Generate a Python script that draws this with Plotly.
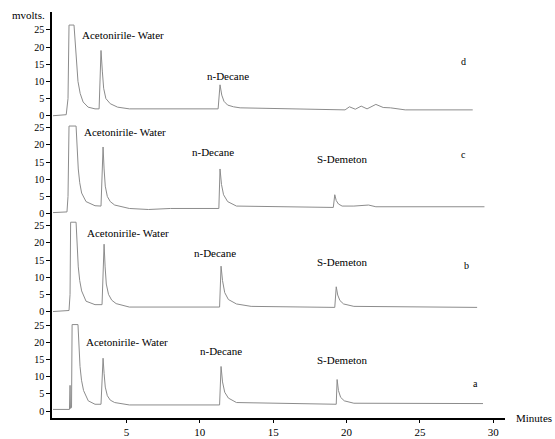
import plotly.graph_objects as go

# ---- data (time in minutes, signal in mV) ----
t_d = [0, 0.9, 1.02, 1.09, 1.43, 1.52, 1.6, 1.7, 1.85, 2.05, 2.39, 2.86, 3.14, 3.27, 3.36, 3.45, 3.6, 3.9, 4.4, 5.2,
       11.25, 11.38, 11.5, 11.65, 11.9, 12.3, 12.75, 19.9, 20.2, 20.6, 21.0, 21.4, 22.0, 22.5, 23.0, 24.0, 28.6]
v_d = [0, 0.3, 5, 26.4, 26.4, 20, 14, 10, 6.5, 4, 2.5, 2, 2, 19, 13, 8, 5, 3.5, 2.5, 2.0,
       2.0, 9, 6, 4.2, 3.1, 2.6, 2.3, 1.7, 2.6, 1.9, 2.8, 2.0, 3.3, 2.4, 2.3, 1.7, 1.7]

t_c = [0, 0.95, 1.02, 1.09, 1.57, 1.64, 1.72, 1.82, 1.95, 2.25, 2.86, 3.27, 3.41, 3.48, 3.56, 3.7, 3.9, 4.2, 5.2, 6.5, 8.0,
       11.3, 11.38, 11.48, 11.62, 11.9, 12.5, 19.1, 19.2, 19.3, 19.45, 19.7, 20.5, 21.5, 22.0, 29.4]
v_c = [0.3, 0.5, 5, 25.5, 25.5, 19, 13, 9, 6, 3.5, 2.3, 2.2, 19.4, 13, 8, 5, 3.5, 2.5, 1.5, 1.2, 1.5,
       1.5, 13, 8.5, 5.5, 3.5, 2.2, 1.8, 5.5, 3.8, 2.8, 2.2, 2.2, 2.5, 2.0, 2.0]

t_b = [0, 1.09, 1.16, 1.2, 1.57, 1.64, 1.72, 1.82, 1.95, 2.25, 2.86, 3.34, 3.48, 3.55, 3.63, 3.78, 4.0, 4.3, 5.2,
       11.35, 11.45, 11.55, 11.7, 11.95, 12.5, 13.5, 19.2, 19.3, 19.4, 19.55, 19.8, 20.5, 28.9]
v_b = [0, 0.3, 5, 26, 26, 19, 13, 9, 6, 3, 2, 2, 19.6, 13, 8, 5, 3.3, 2.3, 1.3,
       1.3, 13.2, 9, 5.5, 3.5, 2.2, 1.5, 1.2, 7.2, 4.8, 3.2, 2.2, 1.5, 1.2]

t_a = [0, 1.12, 1.16, 1.19, 1.26, 1.3, 1.7, 1.76, 1.84, 1.94, 2.08, 2.4, 2.86, 3.27, 3.41, 3.48, 3.56, 3.7, 3.9, 4.2, 5.2,
       11.35, 11.45, 11.55, 11.7, 11.95, 12.5, 19.3, 19.36, 19.45, 19.6, 19.85, 20.5, 29.3]
v_a = [0.5, 0.5, 7.5, 0.8, 1, 25.2, 25.2, 19, 13, 9, 6, 3, 2.0, 2, 15.4, 11, 7, 4.5, 3.2, 2.5, 1.8,
       1.8, 13, 8.5, 5.5, 3.8, 2.5, 2, 9.2, 6, 4, 3, 2.3, 2.2]

panel_names = ["a", "b", "c", "d"]
panel_offsets = [0, 29, 57.5, 86]
y_ticks = [0, 5, 10, 15, 20, 25]
x_ticks = [5, 10, 15, 20, 25, 30]

series = {"a": (t_a, v_a), "b": (t_b, v_b), "c": (t_c, v_c), "d": (t_d, v_d)}

fig = go.Figure()
for name, off in zip(panel_names, panel_offsets):
    t, v = series[name]
    fig.add_trace(go.Scatter(x=t, y=[val + off for val in v], mode="lines",
                             line=dict(color="#8c8c8c", width=1), showlegend=False,
                             hoverinfo="skip"))

tickvals, ticktext = [], []
for off in panel_offsets:
    for tv in y_ticks:
        tickvals.append(tv + off)
        ticktext.append(str(tv))

serif = "Liberation Serif"
ann = []
def lab(x, y, text, size=11, anchor="left"):
    ann.append(dict(x=x, y=y, xref="x", yref="y", text=text, showarrow=False,
                    xanchor=anchor, yanchor="middle", font=dict(family=serif, size=size, color="black")))

for x, y in [(1.84, 109.6), (1.98, 81.4), (2.18, 51.9), (2.11, 20)]:
    lab(x, y, "Acetonirile- Water")
for x, y in [(10.36, 97.7), (9.34, 75.4), (9.48, 46.1), (9.88, 17.4)]:
    lab(x, y, "n-Decane")
for x, y in [(17.86, 73.3), (17.86, 43.5), (17.86, 14.8)]:
    lab(x, y, "S-Demeton")
for x, y, s in [(28.0, 101.7, "d"), (28.0, 74.8, "c"), (28.15, 42.3, "b"), (28.77, 8.1, "a")]:
    lab(x, y, s, size=10, anchor="center")

ann.append(dict(x=-0.0927, y=0.993, xref="paper", yref="paper", text="mvolts.", showarrow=False,
                xanchor="left", yanchor="middle", font=dict(family=serif, size=11, color="black")))
ann.append(dict(x=1.02, y=0.0, xref="paper", yref="paper", text="Minutes", showarrow=False,
                xanchor="left", yanchor="middle", font=dict(family=serif, size=11, color="black")))

fig.update_layout(
    width=555, height=439,
    margin=dict(l=52, r=50, t=12, b=21, autoexpand=False),
    paper_bgcolor="white", plot_bgcolor="white",
    annotations=ann,
    font=dict(family=serif, size=11, color="black"),
)
fig.update_xaxes(range=[-0.07, 30.8], tickvals=x_ticks, ticktext=[str(v) for v in x_ticks],
                 showline=True, linecolor="black", linewidth=2, ticks="outside", ticklen=3,
                 tickcolor="black", showgrid=False, zeroline=False, automargin=False,
                 tickfont=dict(family=serif, size=11, color="black"))
fig.update_yaxes(range=[-2, 116.2], tickvals=tickvals, ticktext=ticktext,
                 showline=True, linecolor="black", linewidth=1.5, ticks="outside", ticklen=4,
                 tickcolor="black", showgrid=False, zeroline=False, automargin=False,
                 tickfont=dict(family=serif, size=10, color="black"))

fig.write_html("out.html")
